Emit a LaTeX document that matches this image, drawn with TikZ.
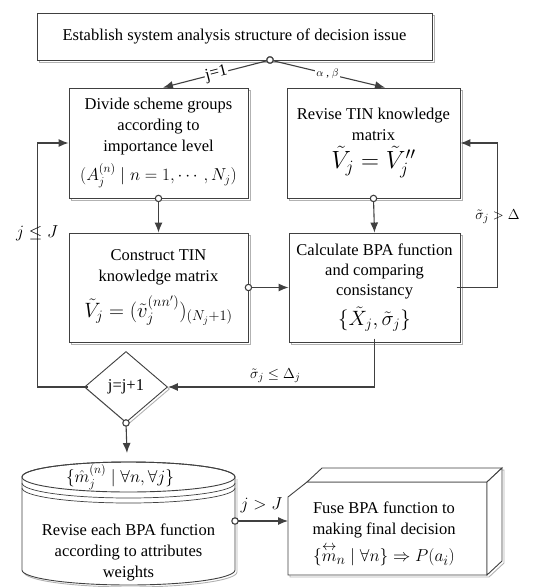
\documentclass[tikz,border=0pt]{standalone}
\usepackage{amsmath}
\usepackage{fontspec}
\setmainfont{Liberation Serif}
\usetikzlibrary{arrows.meta,shapes.geometric,shadows}

\tikzset{
  head/.tip={Latex[length=10pt,width=8pt]},
  knob/.tip={Circle[open,fill=white,length=7.5pt]},
  box/.style={draw=black!75, line width=0.9pt, fill=white, align=center, inner sep=2pt,
    general shadow={draw=black!30, line width=0.9pt, shadow xshift=2pt, shadow yshift=-2pt}},
  flow/.style={draw=black!75, line width=1.1pt, shorten <=-3.75pt},
}

\begin{document}
\begin{tikzpicture}[x=1pt, y=-1pt, font=\fontsize{16.5}{21}\selectfont]
\useasboundingbox (0,0) rectangle (541,587);

\node[box, minimum width=395pt, minimum height=47pt] (top) at (234.5,36.5) {Establish system analysis structure of decision issue};
\node[box, minimum width=179pt, minimum height=110pt] (divide) at (158.5,143) {Divide scheme groups\\according to\\importance level\\[7pt]$(A_j^{(n)}\mid n=1,\cdots,N_j)$};
\node[box, minimum width=173pt, minimum height=110pt] (revise) at (373.5,143) {Revise TIN knowledge\\matrix\\[4pt]{\fontsize{23}{27}\selectfont$\tilde{V}_j=\tilde{V}''_j$}};
\node[box, minimum width=179pt, minimum height=109pt] (construct) at (158.5,287.5) {Construct TIN\\knowledge matrix\\[10pt]{\fontsize{20}{24}\selectfont$\tilde{V}_j=(\tilde{v}_j^{(nn')})_{(N_j+1)}$}};
\node[box, minimum width=171pt, minimum height=109pt, font=\fontsize{16.5}{20}\selectfont] (calc) at (374.5,287.5) {Calculate BPA function\\and comparing\\consistancy\\[7pt]{\fontsize{20}{24}\selectfont$\{\tilde{X}_j,\tilde{\sigma}_j\}$}};
\node[box, diamond, minimum width=83pt, minimum height=71pt, inner sep=0pt] (incr) at (126,387) {j=j+1};

% store of revised BPA functions
\begin{scope}[draw=black!30, line width=0.9pt, shift={(2,2)}]
\path[draw] (22,477) -- (22,570) arc[start angle=180,end angle=360,x radius=106.5pt,y radius=15pt] -- (235,477);
\end{scope}
\path[draw=black!75, line width=0.9pt, fill=white] (22,477) -- (22,570) arc[start angle=180,end angle=360,x radius=106.5pt,y radius=15pt] -- (235,477) arc[start angle=0,end angle=180,x radius=106.5pt,y radius=15pt] -- cycle;
\path[draw=black!75, line width=0.9pt] (128.5,477) ellipse [x radius=106.5pt, y radius=15pt];
\path[draw=black!75, line width=0.7pt] (22,483) arc[start angle=180,end angle=360,x radius=106.5pt,y radius=15pt];
\path[draw=black!75, line width=0.7pt] (22,488) arc[start angle=180,end angle=360,x radius=106.5pt,y radius=15pt];
\node[font=\fontsize{17}{20}\selectfont, inner sep=0pt] (storetext) at (120,477) {$\{\hat{m}_j^{(n)}\mid\forall n,\forall j\}$};
\node[align=center] (store) at (128.5,552) {Revise each BPA function\\according to attributes\\weights};

% fusion block
\begin{scope}[draw=black!30, line width=0.9pt, shift={(2,2)}]
\path[draw] (288,575) -- (288,497) -- (322,468) -- (502,468) -- (502,561) -- (487,575) -- cycle;
\end{scope}
\path[draw=black!75, line width=0.9pt, fill=white] (288,575) -- (288,497) -- (307,482) -- (487,482) -- (487,575) -- cycle;
\path[draw=black!75, line width=0.9pt, fill=white] (307,482) -- (322,468) -- (502,468) -- (487,482) -- cycle;
\path[draw=black!75, line width=0.9pt, fill=white] (487,482) -- (502,468) -- (502,561) -- (487,575) -- cycle;
\node[align=center] (fuse) at (384,534) {Fuse BPA function to\\making final decision\\[5pt]{\fontsize{19}{22}\selectfont$\{\overset{\leftrightarrow}{m}_n\mid\forall n\}\Rightarrow P(a_i)$}};

\coordinate (split) at (270,60);
\coordinate (storetop) at (127,453);
\coordinate (storeeast) at (235,521);
\coordinate (fuseface) at (288,521);

\path[flow, knob-head] (split) -- node[sloped, fill=white, inner sep=1pt] {j=1} ([xshift=4.5pt]divide.north);
\path[flow, knob-head] (split) -- node[fill=white, inner sep=1pt, font=\fontsize{11}{11}\selectfont] {$\alpha$ , $\beta$} ([xshift=11.5pt]revise.north);
\path[flow, knob-head] (divide.south) -- (construct.north);
\path[flow, knob-head] (revise.south) -- (calc.north);
\path[flow, knob-head] (construct.east) -- (calc.west);
\path[flow, -head] (calc.east) -- ++(37,0) |- node[pos=0.245, font=\fontsize{15}{15}\selectfont] {$\tilde{\sigma}_j>\Delta$} (revise.east);
\path[flow, -head] (calc.south) |- node[pos=0.74, above, font=\fontsize{15}{15}\selectfont] {$\tilde{\sigma}_j\le\Delta_j$} (incr.east);
\path[flow, -head] (incr.west) -- ++(-47,0) |- node[pos=0.316, font=\fontsize{18}{18}\selectfont] {$j\le J$} (divide.west);
\path[flow, knob-head] (incr.south) -- (storetop);
\path[flow, knob-head] (storeeast) -- node[above=4pt, font=\fontsize{18}{18}\selectfont] {$j>J$} (fuseface);
\end{tikzpicture}
\end{document}
